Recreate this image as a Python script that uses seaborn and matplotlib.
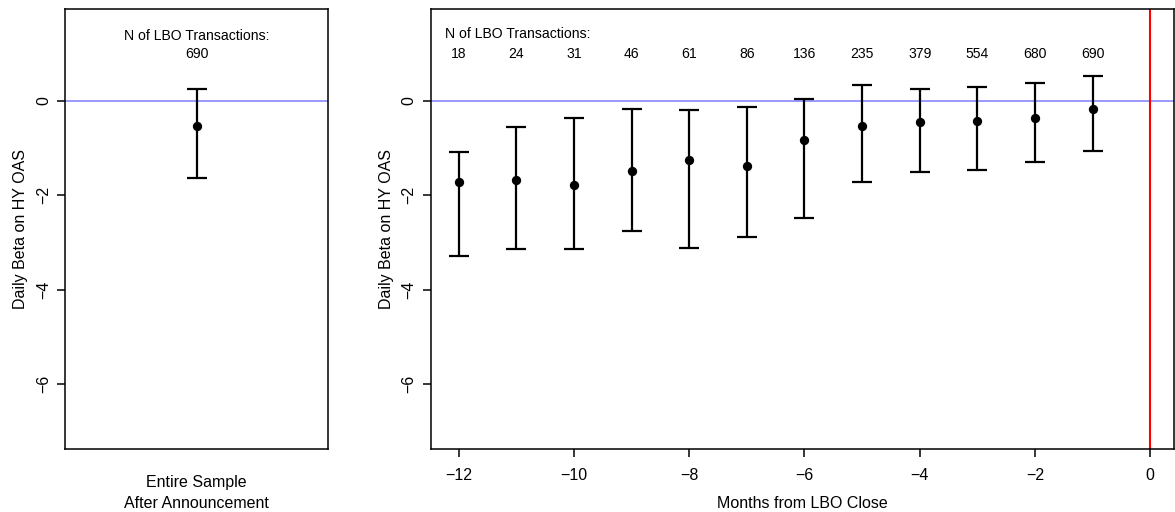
import numpy as np
import pandas as pd
import matplotlib
matplotlib.use("Agg")
import matplotlib.pyplot as plt
from matplotlib import font_manager as fm
import seaborn as sns

# 전체 표본 (발표 이후)
full_beta = [-0.53]
full_lo = [-1.64]
full_hi = [0.24]
full_n = [690]

# LBO 종결 전 개월별 추정치
months = [-12, -11, -10, -9, -8, -7, -6, -5, -4, -3, -2, -1]
beta = [-1.73, -1.67, -1.79, -1.48, -1.26, -1.39, -0.83, -0.54, -0.46, -0.42, -0.36, -0.18]
beta_lo = [-3.29, -3.15, -3.15, -2.75, -3.11, -2.89, -2.49, -1.72, -1.52, -1.46, -1.30, -1.07]
beta_hi = [-1.09, -0.56, -0.36, -0.18, -0.19, -0.13, 0.03, 0.34, 0.24, 0.29, 0.37, 0.53]
n_lbo = [18, 24, 31, 46, 61, 86, 136, 235, 379, 554, 680, 690]

sns.set_style("ticks")
# Narrow 변형이 잡히지 않도록 제외
fm.fontManager.ttflist = [f for f in fm.fontManager.ttflist if 'Narrow' not in f.fname]
plt.rcParams['font.family'] = ['Liberation Sans', 'DejaVu Sans']
plt.rcParams['axes.linewidth'] = 1.1
plt.rcParams['text.color'] = 'black'
plt.rcParams['axes.labelcolor'] = 'black'
plt.rcParams['xtick.color'] = 'black'
plt.rcParams['ytick.color'] = 'black'

fig = plt.figure(figsize=(11.75, 5.12), dpi=100)
ax1 = fig.add_axes([0.0553, 0.123, 0.2239, 0.859])
ax2 = fig.add_axes([0.3664, 0.123, 0.6326, 0.859])

ylim = (-7.38, 1.94)
fs = 11.5
fs_txt = 10.1
blue = '#7f7fff'

# 왼쪽 패널
df_full = pd.DataFrame({'x': [0.0], 'beta': full_beta})
ax1.axhline(0, color=blue, lw=1.1, zorder=1)
ax1.errorbar([0.0], full_beta,
             yerr=[np.array(full_beta) - np.array(full_lo), np.array(full_hi) - np.array(full_beta)],
             fmt='none', ecolor='black', elinewidth=1.6, capsize=7, capthick=1.6, zorder=2)
sns.scatterplot(data=df_full, x='x', y='beta', ax=ax1, color='black', s=45,
                edgecolor='black', linewidth=0, zorder=3, legend=False)
ax1.set_xlim(-1, 1)
ax1.set_ylim(*ylim)
ax1.set_xticks([])
ax1.set_xlabel("Entire Sample\nAfter Announcement", fontsize=fs, labelpad=19, linespacing=1.5)
ax1.text(0.0, 1.38, "N of LBO Transactions:", ha='center', va='center', fontsize=fs_txt)
ax1.text(0.0, 0.99, str(full_n[0]), ha='center', va='center', fontsize=fs_txt)

# 오른쪽 패널
df_m = pd.DataFrame({'month': months, 'beta': beta})
ax2.axhline(0, color=blue, lw=1.1, zorder=1)
ax2.axvline(0, color='red', lw=1.5, zorder=1)
ax2.errorbar(months, beta,
             yerr=[np.array(beta) - np.array(beta_lo), np.array(beta_hi) - np.array(beta)],
             fmt='none', ecolor='black', elinewidth=1.6, capsize=7, capthick=1.6, zorder=2)
sns.scatterplot(data=df_m, x='month', y='beta', ax=ax2, color='black', s=45,
                edgecolor='black', linewidth=0, zorder=3, legend=False)
ax2.set_xlim(-12.49, 0.41)
ax2.set_ylim(*ylim)
ax2.set_xticks([-12, -10, -8, -6, -4, -2, 0])
ax2.set_xticklabels(['\u221212', '\u221210', '\u22128', '\u22126', '\u22124', '\u22122', '0'])
ax2.tick_params(axis='x', pad=8)
ax2.set_xlabel("Months from LBO Close", fontsize=fs, labelpad=9)
ax2.text(-12.24, 1.42, "N of LBO Transactions:", ha='left', va='center', fontsize=fs_txt)
for m, n in zip(months, n_lbo):
    ax2.text(m, 0.99, str(n), ha='center', va='center', fontsize=fs_txt)

for ax in (ax1, ax2):
    ax.set_yticks([0, -2, -4, -6])
    ax.set_yticklabels(['0', '\u22122', '\u22124', '\u22126'], rotation=90, va='center')
    ax.tick_params(axis='both', direction='out', length=6, width=1.1, labelsize=fs)
    ax.tick_params(axis='y', pad=4)
    ax.set_ylabel("Daily Beta on HY OAS", fontsize=fs, labelpad=5.5)
    for s in ax.spines.values():
        s.set_visible(True)
        s.set_color('black')

fig.savefig("out.png", dpi=100)
